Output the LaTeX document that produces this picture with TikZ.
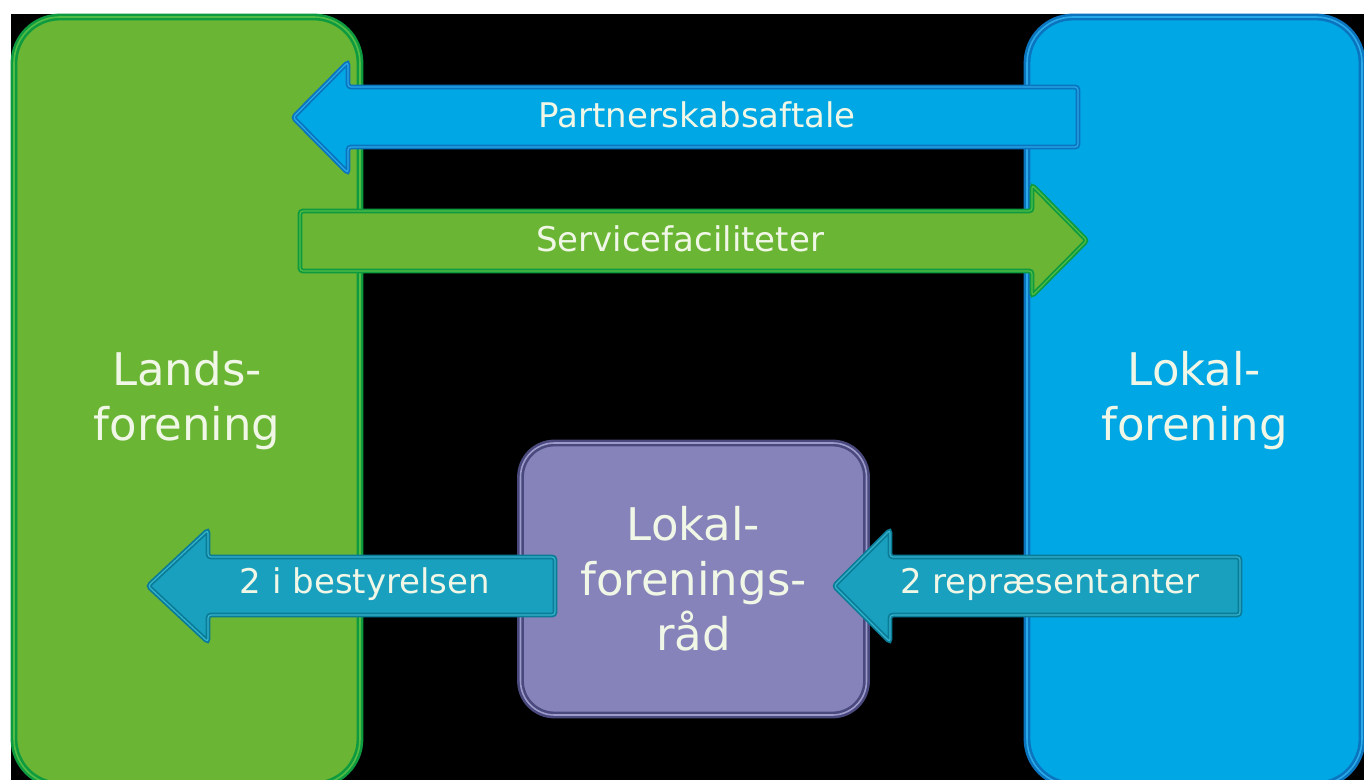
\documentclass[tikz,border=0pt]{standalone}
\usepackage{fontspec}
\setmainfont{DejaVu Sans}
\definecolor{gfill}{HTML}{6AB533}
\definecolor{gdark}{HTML}{0E9B3F}
\definecolor{glight}{HTML}{52BC45}
\definecolor{bfill}{HTML}{00A7E5}
\definecolor{bdark}{HTML}{0A74BE}
\definecolor{blight}{HTML}{2AA9E8}
\definecolor{pfill}{HTML}{8583B9}
\definecolor{pdark}{HTML}{4A497E}
\definecolor{plight}{HTML}{9C9ACB}
\definecolor{tfill}{HTML}{19A0BF}
\definecolor{tdark}{HTML}{0B7C97}
\definecolor{tlight}{HTML}{35B4CE}
\definecolor{txt}{HTML}{F0F7E6}
\begin{document}
\begin{tikzpicture}[x=0.5pt,y=-0.5pt,
  bigbox/.style={rectangle, line width=1.3pt, double distance=0.8pt,
    text=txt, align=center, inner sep=0pt,
    font=\fontsize{22.5}{27.5}\selectfont},
  greenbox/.style={bigbox, draw=gdark, double=glight, fill=gfill, rounded corners=23pt},
  bluebox/.style={bigbox, draw=bdark, double=blight, fill=bfill, rounded corners=23pt},
  purplebox/.style={bigbox, draw=pdark, double=plight, fill=pfill, rounded corners=17pt},
  blockarrow/.style={line width=0.9pt, double distance=0.6pt, rounded corners=1.5pt},
  garrow/.style={blockarrow, draw=gdark, double=glight, fill=gfill},
  barrow/.style={blockarrow, draw=bdark, double=blight, fill=bfill},
  tarrow/.style={blockarrow, draw=tdark, double=tlight, fill=tfill},
  lbl/.style={text=txt, inner sep=0pt, font=\fontsize{17}{20}\selectfont}]
\useasboundingbox (0,0) rectangle (1364,780);
\clip (0,0) rectangle (1364,780);
\fill[white] (0,0) rectangle (1364,780);
\fill[black] (11,14) rectangle (1364,780);
% boxes
\node[greenbox, minimum width=173pt, minimum height=384pt] (lands) at (187,401) {Lands-\\forening};
\node[bluebox, minimum width=167.5pt, minimum height=384pt] (lokal) at (1194.5,401) {Lokal-\\forening};
\node[purplebox, minimum width=173pt, minimum height=136pt] (raad) at (693.5,579) {Lokal-\\forenings-\\råd};
% Partnerskabsaftale arrow (right to left)
\path[barrow] (1078,87) -- (348,87) -- (348,62) -- (293,117.5) -- (348,173) -- (348,147) -- (1078,147) -- cycle;
\node[lbl] (partner) at (697,115) {Partnerskabsaftale};
% Servicefaciliteter arrow (left to right)
\path[garrow] (300,211) -- (1032,211) -- (1032,185) -- (1087,240.5) -- (1032,296) -- (1032,271) -- (300,271) -- cycle;
\node[lbl] (service) at (680,239) {Servicefaciliteter};
% 2 i bestyrelsen arrow
\path[tarrow] (555,557) -- (208,557) -- (208,530) -- (148,586) -- (208,642) -- (208,615) -- (555,615) -- cycle;
\node[lbl] (best) at (365,584) {2 i bestyrelsen};
% 2 repraesentanter arrow
\path[tarrow] (1240,557) -- (890,557) -- (890,530) -- (834,586) -- (890,642) -- (890,615) -- (1240,615) -- cycle;
\node[lbl] (repr) at (1050,584) {2 repræsentanter};
\end{tikzpicture}
\end{document}
